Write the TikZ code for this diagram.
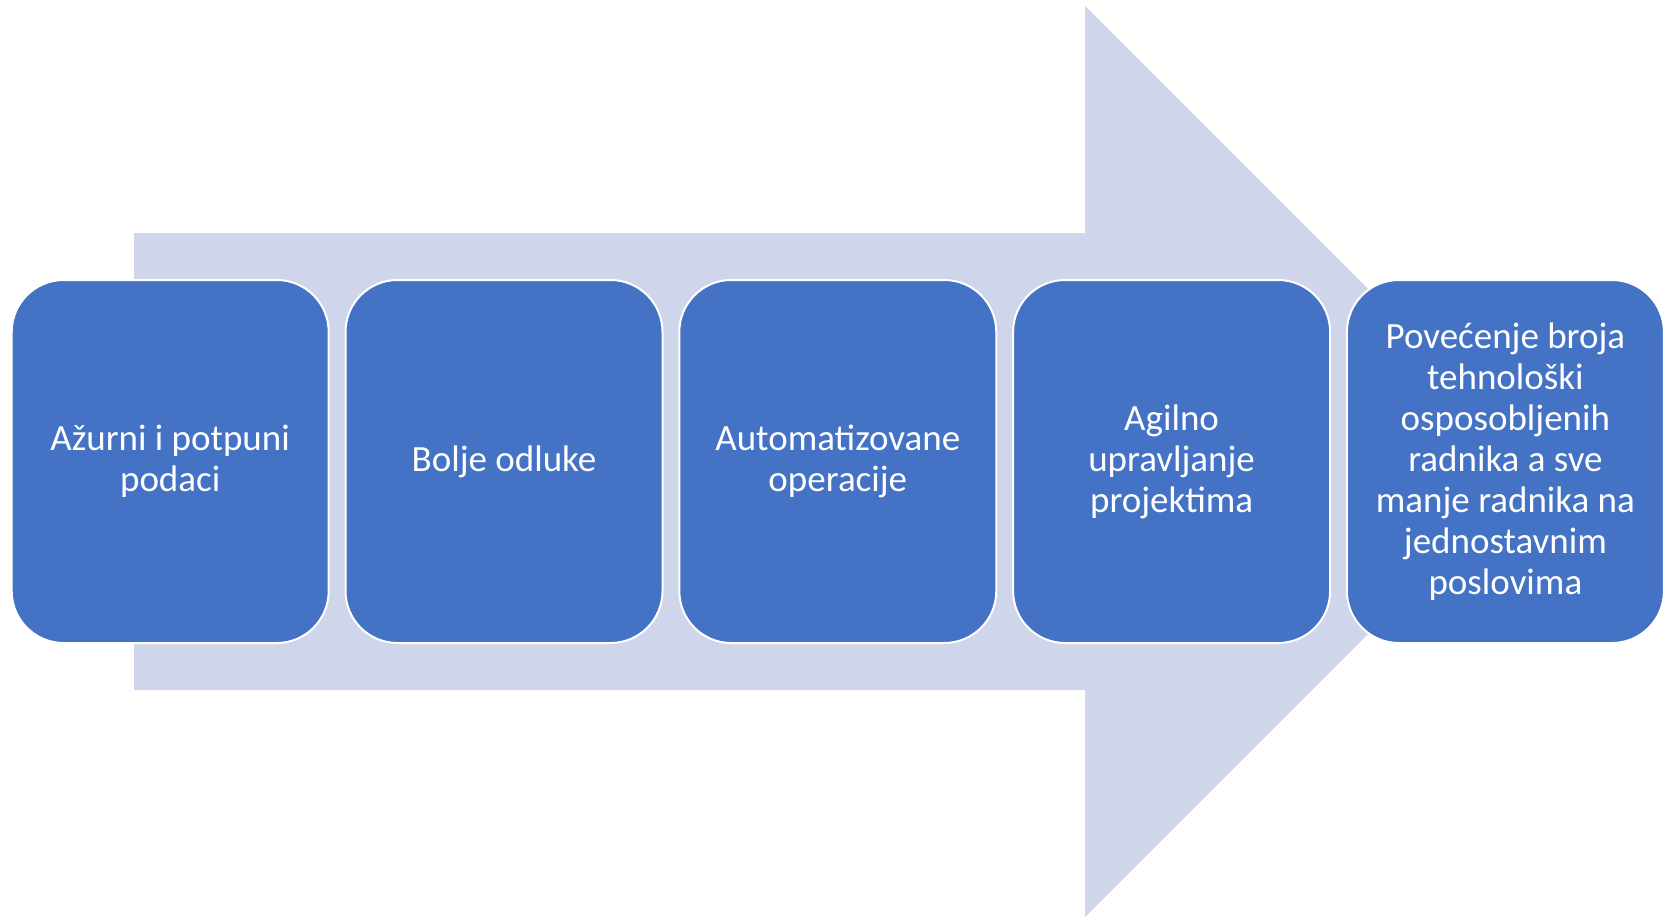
\documentclass[tikz,border=0pt]{standalone}
\usepackage{fontspec}
\setmainfont{Carlito}
\definecolor{boxblue}{HTML}{4472C4}
\definecolor{arrowfill}{HTML}{CFD5EA}
\begin{document}
\begin{tikzpicture}[x=1pt,y=-1pt,
  stepbox/.style={draw=white, line width=2pt, fill=boxblue, rounded corners=52pt,
    minimum width=317pt, minimum height=363pt, inner sep=0pt,
    text=white, align=center,
    font=\fontsize{37}{41}\selectfont}]
  \useasboundingbox (0,0) rectangle (1667,918);
  % large background arrow
  \fill[arrowfill] (134,233) -- (1085,233) -- (1085,6) -- (1540.5,461.5)
    -- (1085,917) -- (1085,690) -- (134,690) -- cycle;
  % process steps
  \node[stepbox] (s1) at (170.2,461.5) {Ažurni i potpuni\\podaci};
  \node[stepbox] (s2) at (504.0,461.5) {Bolje odluke};
  \node[stepbox] (s3) at (837.8,461.5) {Automatizovane\\operacije};
  \node[stepbox] (s4) at (1171.6,461.5) {Agilno\\upravljanje\\projektima};
  \node[stepbox] (s5) at (1505.4,461.5) {Povećenje broja\\tehnološki\\osposobljenih\\radnika a sve\\manje radnika na\\jednostavnim\\poslovima};
\end{tikzpicture}
\end{document}
